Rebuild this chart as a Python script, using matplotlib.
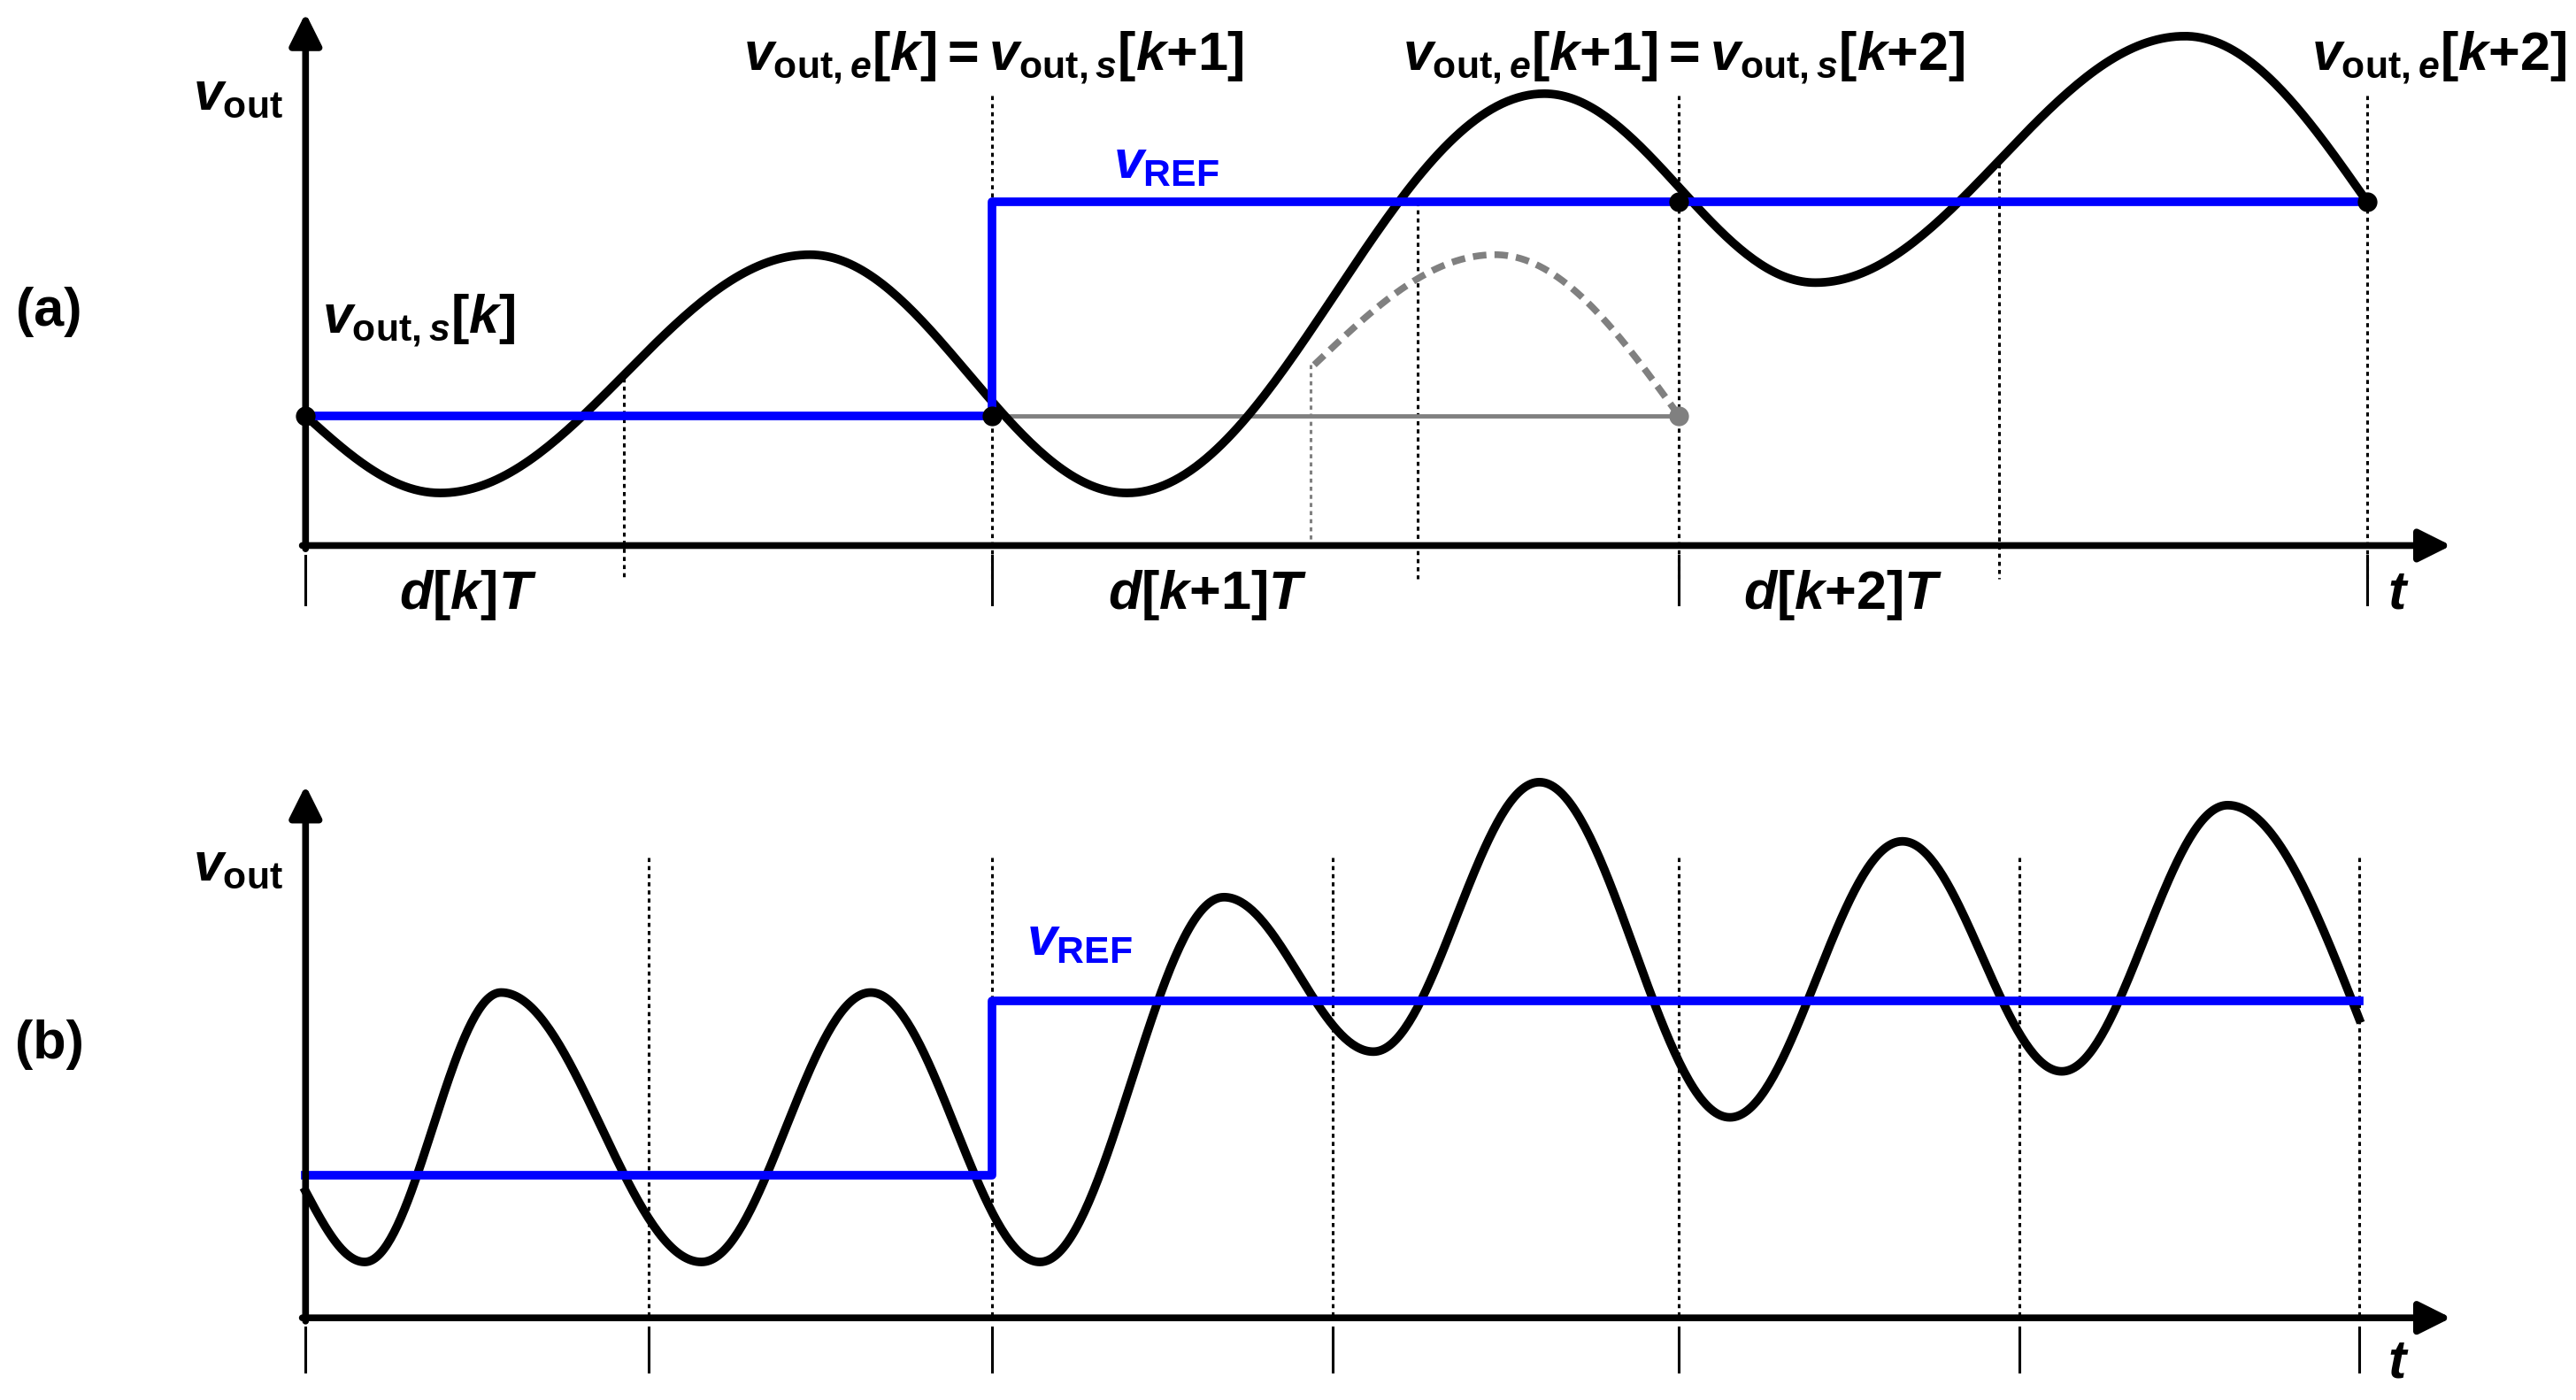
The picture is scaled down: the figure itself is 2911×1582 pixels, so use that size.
import numpy as np
import matplotlib.pyplot as plt

plt.rcParams['mathtext.fontset'] = 'custom'
plt.rcParams['mathtext.rm'] = 'Liberation Sans:bold'
plt.rcParams['mathtext.bf'] = 'Liberation Sans:bold'
plt.rcParams['mathtext.it'] = 'Liberation Sans:bold:italic'
plt.rcParams['font.family'] = 'Liberation Sans'

# waveform extrema (x, y) in picture coordinates, y grows downward
# first and last points are not extrema
wave_a_x = [186, 268, 493, 686, 940, 1105, 1330, 1441]
wave_a_y = [253, 300, 155, 300, 57, 172, 22, 123]
ghost_x = [800, 910, 1022]
ghost_y = [222, 155, 253]
wave_b_x = [186, 222, 305, 427, 530, 633, 745, 836, 937, 1053, 1158, 1255, 1356, 1436]
wave_b_y = [725, 768, 604, 768, 604, 768, 546, 640, 476, 680, 512, 652, 490, 620]

ref_a_x = [186, 604, 604, 1441]
ref_a_y = [253, 253, 123, 123]
ref_b_x = [186, 604, 604, 1436]
ref_b_y = [715, 715, 609, 609]

dots_a = [(186, 253), (604, 253), (1022, 123), (1441, 123)]
dotted_a = [(380, 225), (604, 58), (863, 123), (1022, 58), (1217, 95), (1441, 58)]
dotted_b = [(395, 522), (604, 522), (811, 522), (1022, 522), (1229, 522), (1436, 522)]
ticks_a = [186, 604, 1022, 1441]
ticks_b = [186, 395, 604, 811, 1022, 1229, 1436]

fig = plt.figure(figsize=(29.11, 15.82), dpi=100)
ax = fig.add_axes([0, 0, 1, 1])
ax.set_xlim(0, 1568)
ax.set_ylim(852, 0)
ax.axis('off')


def cos_segments(xs, ys):
    px, py = [], []
    n = len(xs) - 1
    for i in range(n):
        t = np.linspace(0, 1, 80)
        if i == 0:
            s = np.sin(np.pi / 2 * t)
        elif i == n - 1:
            s = 1 - np.cos(np.pi / 2 * t)
        else:
            s = (1 - np.cos(np.pi * t)) / 2
        px.extend(xs[i] + (xs[i + 1] - xs[i]) * t)
        py.extend(ys[i] + (ys[i + 1] - ys[i]) * s)
    return px, py


def axes_frame(x0, y0, ytop, xright):
    arr = dict(arrowstyle='-|>', lw=5.5, color='k', mutation_scale=55, shrinkA=0, shrinkB=0)
    ax.annotate('', xy=(x0, ytop), xytext=(x0, y0 + 2), arrowprops=arr)
    ax.annotate('', xy=(xright, y0), xytext=(x0 - 2, y0), arrowprops=arr)


lw = 7
# panel (a)
axes_frame(186, 332, 8, 1492)
for x, yt in dotted_a:
    ax.plot([x, x], [yt, 352], ls=(0, (1.5, 1.5)), color='k', lw=2.2)
ax.plot([798, 798], [222, 332], ls=(0, (1.5, 1.5)), color='gray', lw=2.2)
for x in ticks_a:
    ax.plot([x, x], [338, 368], color='k', lw=2.2)
ax.plot([604, 1022], [253, 253], color='gray', lw=3.5)
gx, gy = cos_segments(ghost_x, ghost_y)
ax.plot(gx, gy, color='gray', lw=5.5, ls=(0, (2, 1.2)))
ax.plot(1022, 253, 'o', color='gray', ms=15)
wx, wy = cos_segments(wave_a_x, wave_a_y)
ax.plot(wx, wy, color='k', lw=lw)
ax.plot(ref_a_x, ref_a_y, color='#0000ff', lw=lw)
for x, y in dots_a:
    ax.plot(x, y, 'o', color='k', ms=15)

# panel (b)
axes_frame(186, 802, 478, 1492)
for x, yt in dotted_b:
    ax.plot([x, x], [yt, 802], ls=(0, (1.5, 1.5)), color='k', lw=2.2)
for x in ticks_b:
    ax.plot([x, x], [808, 835], color='k', lw=2.2)
wx, wy = cos_segments(wave_b_x, wave_b_y)
ax.plot(wx, wy, color='k', lw=lw)
ax.plot(ref_b_x, ref_b_y, color='#0000ff', lw=lw)

fs = 44
vout = r'$\mathit{v}_{\mathrm{out}}$'
kw = dict(fontsize=fs, va='center')
ax.text(145, 58, vout, ha='center', **kw)
ax.text(145, 527, vout, ha='center', **kw)
ax.text(30, 190, '(a)', ha='center', fontsize=fs, fontweight='bold', va='center')
ax.text(30, 636, '(b)', ha='center', fontsize=fs, fontweight='bold', va='center')
ax.text(196, 195, r'$\mathit{v}_{\mathrm{out,}\mathit{s}}\mathrm{[}\mathit{k}\mathrm{]}$', ha='left', **kw)
ax.text(605, 35, r'$\mathit{v}_{\mathrm{out,}\mathit{e}}\mathrm{[}\mathit{k}\mathrm{]=}\mathit{v}_{\mathrm{out,}\mathit{s}}\mathrm{[}\mathit{k}\mathrm{+1]}$', ha='center', **kw)
ax.text(1025, 35, r'$\mathit{v}_{\mathrm{out,}\mathit{e}}\mathrm{[}\mathit{k}\mathrm{+1]=}\mathit{v}_{\mathrm{out,}\mathit{s}}\mathrm{[}\mathit{k}\mathrm{+2]}$', ha='center', **kw)
ax.text(1562, 35, r'$\mathit{v}_{\mathrm{out,}\mathit{e}}\mathrm{[}\mathit{k}\mathrm{+2]}$', ha='right', **kw)
ax.text(710, 100, r'$\mathit{v}_{\mathrm{REF}}$', ha='center', color='#0000ff', **kw)
ax.text(657, 573, r'$\mathit{v}_{\mathrm{REF}}$', ha='center', color='#0000ff', **kw)
ax.text(285, 362, r'$\mathit{d}\mathrm{[}\mathit{k}\mathrm{]}\mathit{T}$', ha='center', **kw)
ax.text(735, 362, r'$\mathit{d}\mathrm{[}\mathit{k}\mathrm{+1]}\mathit{T}$', ha='center', **kw)
ax.text(1122, 362, r'$\mathit{d}\mathrm{[}\mathit{k}\mathrm{+2]}\mathit{T}$', ha='center', **kw)
ax.text(1460, 362, r'$\mathit{t}$', ha='center', **kw)
ax.text(1460, 830, r'$\mathit{t}$', ha='center', **kw)

fig.savefig('out.png', dpi=100)
